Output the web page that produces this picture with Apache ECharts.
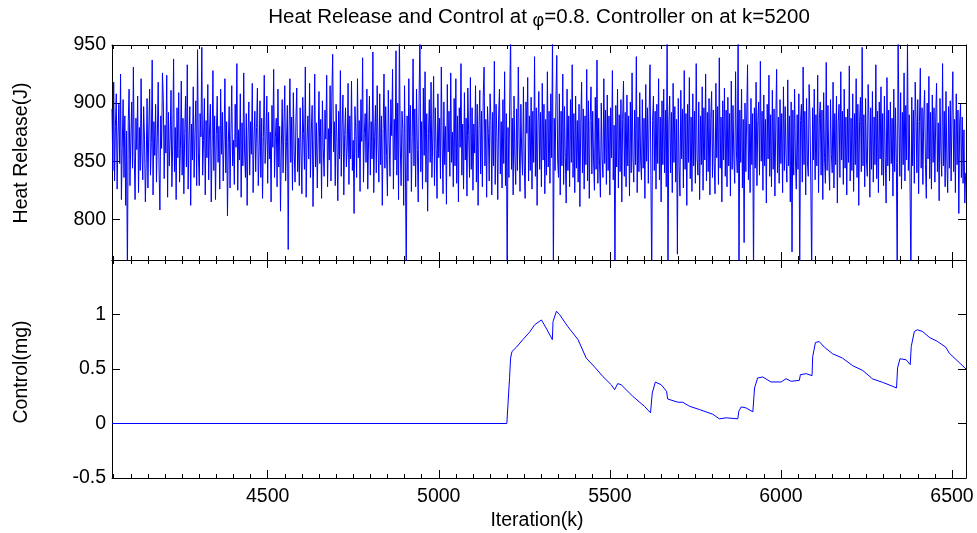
<!DOCTYPE html>
<html>
<head>
<meta charset="utf-8">
<script src="https://cdn.jsdelivr.net/npm/echarts@6/dist/echarts.min.js"></script>
<style>html,body{margin:0;padding:0;background:#fff;}#c{width:977px;height:533px;}</style>
</head>
<body>
<div id="c"></div>
<script>
// ---------- data ----------
var titleText = 'Heat Release and Control at ';
var titlePhi = 'φ';
var titleTail = '=0.8. Controller on at k=5200';
var yNameTop = 'Heat Release(J)';
var yNameBottom = 'Control(mg)';
var xName = 'Iteration(k)';

var xMin = 4045, xMax = 6541;
var xTickLabels = [4500, 5000, 5500, 6000, 6500];
var xMinorStep = 50;
var heatTicks = [800, 850, 900, 950];
var heatMin = 765, heatMax = 950;
var ctrlTicks = [-0.5, 0, 0.5, 1, 1.5];
var ctrlLabels = [-0.5, 0, 0.5, 1];
var ctrlMin = -0.5, ctrlMax = 1.5;

// heat release, read every 2.5 iterations starting at k=4045
var heatStart = 4045, heatStep = 2.5;
var heatValues = [
895,842,918,833,880,908,826,871,899,848,925,817,862,903,836,889,812,876,750,884,
912,829,868,901,844,931,853,817,887,860,906,823,879,842,921,858,834,897,869,815,
848,904,827,876,912,838,866,937,821,884,855,899,832,871,918,845,808,889,861,926,
903,835,881,857,924,819,892,846,870,911,828,864,938,841,879,817,896,853,909,832,
861,919,838,887,822,874,906,845,933,826,868,897,812,882,851,914,836,873,902,829,
946,857,829,891,871,948,838,868,904,821,885,853,916,834,876,899,815,862,928,842,
889,817,873,906,849,880,826,912,856,892,833,869,921,840,884,803,866,897,827,873,
915,846,868,830,899,862,934,825,877,851,908,819,883,846,926,858,836,891,812,872,
901,838,884,856,917,823,869,893,841,879,913,829,858,902,836,887,818,871,924,848,
869,906,831,892,852,875,815,898,862,929,836,871,887,828,912,845,880,807,864,903,
840,882,915,833,867,898,774,876,921,849,888,825,909,858,832,884,913,841,870,829,
896,858,822,905,874,843,931,819,867,889,852,917,836,876,898,811,862,925,845,883,
827,871,910,848,886,818,902,861,837,894,869,924,828,878,851,915,833,906,942,858,
884,829,899,865,816,893,852,928,837,880,907,821,873,896,845,862,917,830,889,852,
919,842,868,805,897,876,836,921,853,885,824,903,867,939,832,874,891,849,912,826,
870,906,838,884,852,944,823,871,898,840,915,863,832,908,847,889,812,878,925,844,
897,855,820,911,869,837,903,872,929,826,886,851,945,838,900,817,960,864,829,893,
878,812,915,846,750,889,833,921,857,898,824,871,938,846,895,828,912,860,815,902,
960,841,884,826,913,855,927,832,891,807,874,903,849,918,836,870,923,829,896,861,
818,908,853,887,835,931,864,822,901,847,880,813,916,858,893,837,926,849,875,828,
904,846,921,831,889,815,896,862,934,838,882,826,909,851,887,820,913,872,836,922,
843,896,825,882,857,915,832,899,812,878,911,839,893,828,905,931,846,886,819,897,
874,833,908,885,821,892,846,936,830,899,871,817,890,912,839,884,827,903,848,927,
829,891,750,879,836,902,960,843,887,821,906,853,830,895,842,931,869,824,899,857,
838,914,846,818,901,874,922,833,889,842,905,826,893,849,940,837,896,812,883,910,
843,892,828,917,851,899,822,886,838,927,845,893,831,908,853,960,750,887,842,903,
941,851,836,908,821,893,846,925,830,897,853,814,912,842,889,828,903,849,933,836,
891,823,906,844,885,832,899,811,882,918,840,895,826,889,847,929,833,902,818,885,
914,839,893,851,825,905,843,937,831,887,846,819,900,853,836,921,848,894,830,907,
842,889,821,896,853,928,834,881,750,898,845,912,827,890,841,903,815,886,919,837,
892,828,907,846,889,820,901,840,926,853,832,894,847,940,823,888,841,909,851,834,
903,844,887,818,916,850,896,831,891,933,838,750,885,906,842,893,826,899,848,921,
834,888,815,902,847,912,840,894,828,960,750,883,906,840,892,823,917,849,897,832,
886,770,904,846,820,911,852,895,827,928,843,891,812,899,849,922,835,888,824,908,
846,893,831,934,853,838,901,817,889,847,914,825,896,851,925,833,892,841,904,821,
887,910,836,894,849,822,917,853,897,830,939,844,888,815,902,851,913,837,894,828,
905,846,891,820,919,843,898,853,831,927,858,840,960,750,894,849,912,827,886,780,
900,841,888,933,834,882,823,904,847,891,750,896,844,918,829,885,901,838,936,850,
893,825,907,846,886,814,899,852,924,837,890,828,911,843,895,820,883,929,840,888,
831,903,848,891,823,914,842,897,854,832,920,846,889,815,901,772,894,838,912,851,
826,890,843,908,750,885,899,832,931,847,893,821,904,850,837,916,888,829,750,896,
851,912,834,890,846,924,823,887,901,838,894,817,909,853,831,935,842,898,849,825,
903,856,840,918,827,891,847,906,814,884,899,836,927,851,893,830,912,844,888,821,
895,849,932,833,887,842,908,824,891,847,921,836,899,812,884,905,841,948,846,890,
828,904,851,837,916,884,819,896,843,910,832,888,847,933,835,893,823,901,852,914,
838,891,829,906,853,814,922,846,894,833,901,848,887,820,912,841,896,849,750,960,
884,837,909,826,892,847,926,833,898,851,953,842,890,828,750,905,846,894,831,918,
887,840,903,822,884,930,844,896,830,889,911,847,818,900,852,923,835,892,826,907,
849,896,832,888,917,841,883,816,904,859,837,934,846,893,828,910,851,823,897,844,
902,833,890,927,841,886,823,908,847,894,805,883,899,836,888,831,877,814,840
];

var controlX = [4045,5199,5207,5210,5214,5227,5246,5266,5280,5300,5314,5332,5334,5344,5353,5377,5407,5431,5455,5480,5504,5514,5523,5533,5567,5601,5619,5624,5633,5650,5666,5669,5699,5713,5733,5762,5801,5820,5840,5874,5877,5884,5898,5918,5923,5932,5947,5971,6001,6015,6030,6054,6057,6074,6091,6093,6101,6112,6127,6151,6180,6210,6239,6268,6297,6322,6338,6341,6348,6366,6378,6381,6390,6399,6414,6434,6458,6482,6492,6541];
var controlY = [0,0,0.42,0.60,0.66,0.70,0.77,0.84,0.905,0.95,0.875,0.77,0.935,1.03,1.0,0.89,0.77,0.60,0.52,0.43,0.356,0.31,0.366,0.356,0.25,0.158,0.098,0.28,0.38,0.356,0.295,0.225,0.195,0.195,0.158,0.128,0.085,0.043,0.052,0.043,0.113,0.152,0.143,0.107,0.326,0.418,0.427,0.381,0.381,0.411,0.387,0.396,0.448,0.457,0.439,0.615,0.743,0.752,0.70,0.64,0.60,0.53,0.487,0.409,0.378,0.347,0.326,0.51,0.594,0.585,0.54,0.707,0.844,0.86,0.844,0.79,0.752,0.70,0.646,0.50];

// ---------- build ----------
var heatData = heatValues.map(function (v, i) { return [heatStart + i * heatStep, v]; });
var ctrlData = controlX.map(function (x, i) { return [x, controlY[i]]; });
var xMinor = [];
for (var k = Math.ceil(xMin / xMinorStep) * xMinorStep; k <= xMax; k += xMinorStep) xMinor.push(k);

var FONT = 'Liberation Sans, Arial, Helvetica, sans-serif';
var FS = 19.5;
var BLUE = '#0000ff';
var lineCol = '#000000';
function plain(v) { return String(v); }

function xAx(grid, pos, major, labels) {
  return {
    type: 'value', gridIndex: grid, position: pos, min: xMin, max: xMax,
    axisLine: { show: major, onZero: false, lineStyle: { color: lineCol, width: 1 } },
    axisTick: { show: true, inside: true, length: major ? 8 : 4, customValues: major ? xTickLabels : xMinor, lineStyle: { color: lineCol, width: 1 } },
    axisLabel: { show: !!labels, customValues: xTickLabels, formatter: plain, margin: 9, color: '#000', fontFamily: FONT, fontSize: FS },
    splitLine: { show: false }
  };
}
function yAx(grid, pos, min, max, ticks, labels) {
  return {
    type: 'value', gridIndex: grid, position: pos, min: min, max: max,
    axisLine: { show: true, onZero: false, lineStyle: { color: lineCol, width: 1 } },
    axisTick: { show: true, inside: true, length: 8, customValues: ticks, lineStyle: { color: lineCol, width: 1 } },
    axisLabel: { show: !!labels, customValues: labels || ticks, formatter: plain, margin: 6, color: '#000', fontFamily: FONT, fontSize: FS },
    splitLine: { show: false }
  };
}

var chart = echarts.init(document.getElementById('c'), null, { renderer: 'canvas' });
chart.setOption({
  animation: false,
  backgroundColor: '#ffffff',
  grid: [
    { left: 112, right: 11, top: 45, height: 215 },
    { left: 112, right: 11, top: 260, height: 218 }
  ],
  xAxis: [
    xAx(0, 'bottom', true, false),
    xAx(0, 'bottom', false, false),
    xAx(0, 'top', true, false),
    xAx(0, 'top', false, false),
    xAx(1, 'bottom', true, true),
    xAx(1, 'bottom', false, false),
    xAx(1, 'top', true, false),
    xAx(1, 'top', false, false)
  ],
  yAxis: [
    yAx(0, 'left', heatMin, heatMax, heatTicks, heatTicks),
    yAx(0, 'right', heatMin, heatMax, heatTicks, null),
    yAx(1, 'left', ctrlMin, ctrlMax, ctrlTicks, ctrlLabels),
    yAx(1, 'right', ctrlMin, ctrlMax, ctrlTicks, null)
  ],
  series: [
    { type: 'line', xAxisIndex: 0, yAxisIndex: 0, data: heatData, showSymbol: false, symbol: 'none', clip: true,
      lineStyle: { color: BLUE, width: 1 }, itemStyle: { color: BLUE } },
    { type: 'line', xAxisIndex: 4, yAxisIndex: 2, data: ctrlData, showSymbol: false, symbol: 'none', clip: true,
      lineStyle: { color: BLUE, width: 1 }, itemStyle: { color: BLUE } }
  ],
  graphic: [
    { type: 'text', x: 539, y: 17, style: {
        text: '{a|' + titleText + '}{p|' + titlePhi + '}{a|' + titleTail + '}',
        align: 'center', verticalAlign: 'middle',
        rich: {
          a: { fontFamily: FONT, fontSize: 20.5, color: '#000' },
          p: { fontFamily: FONT, fontSize: 18, color: '#000', padding: [8, 0, 0, 0] }
        }
      } },
    { type: 'text', x: 22, y: 153, rotation: Math.PI / 2, style: { text: yNameTop, x: 0, y: 0, align: 'center', verticalAlign: 'middle', font: FS + 'px ' + FONT, fill: '#000' } },
    { type: 'text', x: 22, y: 372, rotation: Math.PI / 2, style: { text: yNameBottom, x: 0, y: 0, align: 'center', verticalAlign: 'middle', font: FS + 'px ' + FONT, fill: '#000' } },
    { type: 'text', x: 537, y: 521, style: { text: xName, x: 0, y: 0, align: 'center', verticalAlign: 'middle', font: FS + 'px ' + FONT, fill: '#000' } }
  ]
});
</script>
</body>
</html>
